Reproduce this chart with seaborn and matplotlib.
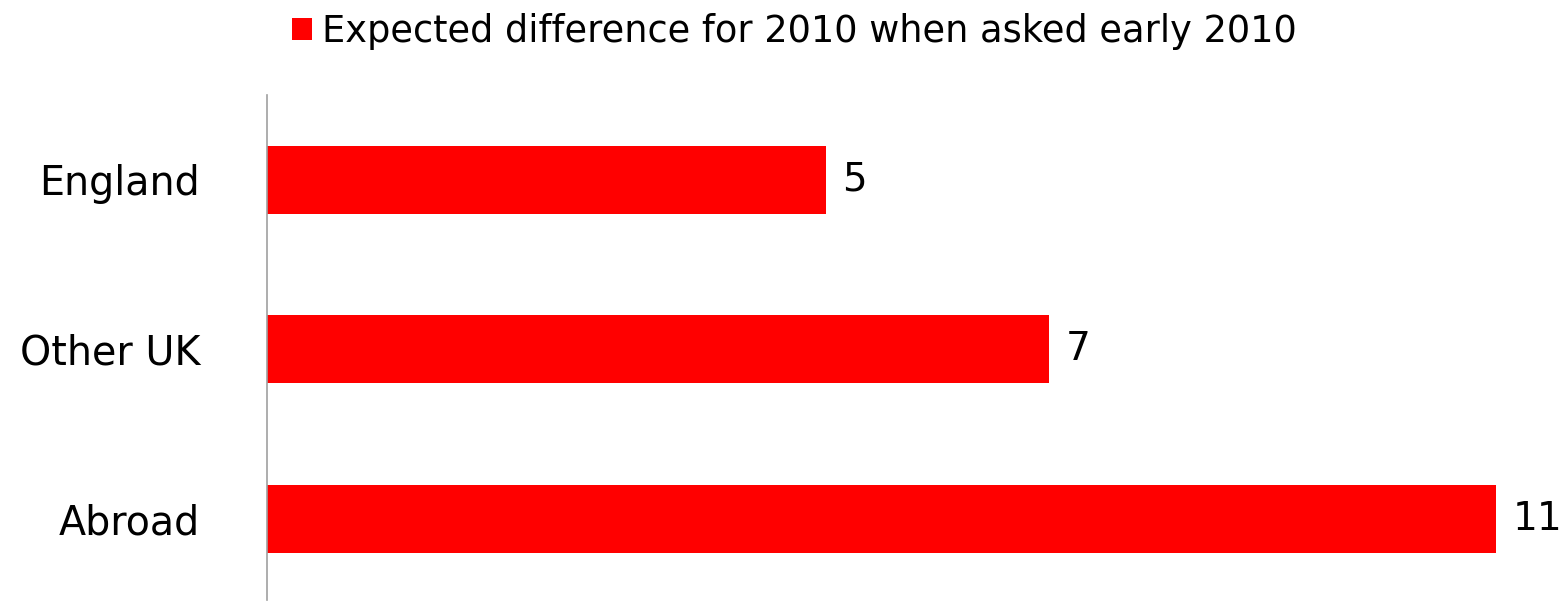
import pandas as pd
import seaborn as sns
import matplotlib.pyplot as plt

# values
regions = ["England", "Other UK", "Abroad"]
differences = [5, 7, 11]
series_name = "Expected difference for 2010 when asked early 2010"

df = pd.DataFrame({"Region": regions, "Difference": differences, "Series": series_name})

sns.set_style("white")
plt.rcParams["font.family"] = ["DejaVu Sans"]
plt.rcParams["text.color"] = "black"
plt.rcParams["ytick.color"] = "black"

fig = plt.figure(figsize=(15.67, 6.01), dpi=100)
ax = fig.add_axes([267 / 1567, 1 / 601, 1 - 267 / 1567, (600 - 95) / 601])

sns.barplot(data=df, y="Region", x="Difference", hue="Series", palette=["#ff0000"],
            saturation=1, orient="h", width=0.4, linewidth=0, ax=ax, legend=True)

ax.set_xlim(0, 1300 / 111.7)
ax.set_ylim(2.48, -0.5)
ax.set_xlabel("")
ax.set_ylabel("")
ax.set_xticks([])
ax.tick_params(axis="y", length=0, pad=48, labelsize=28.5, labelcolor="black")

for side in ["top", "right", "bottom"]:
    ax.spines[side].set_visible(False)
ax.spines["left"].set_color("#a0a0a0")
ax.spines["left"].set_linewidth(1.2)

for cont in ax.containers:
    ax.bar_label(cont, padding=12, fontsize=28, color="black")

handles, labels = ax.get_legend_handles_labels()
ax.legend_.remove()
fig.legend(handles, labels, loc="center", bbox_to_anchor=(0.507, 0.947), frameon=False,
           fontsize=26.5, handlelength=0.55, handleheight=0.55, handletextpad=0.27,
           borderpad=0, borderaxespad=0, labelcolor="black")

fig.savefig("out.png", dpi=100)
